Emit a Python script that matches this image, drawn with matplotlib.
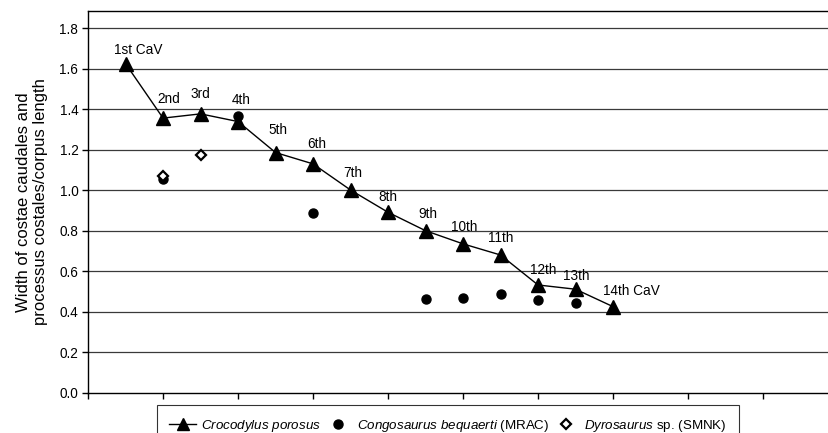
"""
Caudal vertebrae: width of costae caudales / corpus length.
"""
import matplotlib
matplotlib.use('Agg')
import matplotlib.pyplot as plt
from matplotlib.lines import Line2D

plt.rcParams['font.family'] = ['Liberation Sans', 'DejaVu Sans']
plt.rcParams['mathtext.fontset'] = 'custom'
plt.rcParams['mathtext.rm'] = 'Liberation Sans'
plt.rcParams['mathtext.it'] = 'Liberation Sans:italic'

# =============================================================================
# Data
# =============================================================================
croc_pos = [1, 2, 3, 4, 5, 6, 7, 8, 9, 10, 11, 12, 13, 14]
croc_val = [1.625, 1.356, 1.377, 1.339, 1.186, 1.130, 1.001,
            0.891, 0.800, 0.735, 0.680, 0.532, 0.511, 0.425]
croc_labels = ['1st CaV', '2nd', '3rd', '4th', '5th', '6th', '7th',
               '8th', '9th', '10th', '11th', '12th', '13th', '14th CaV']

congo_pos = [2, 4, 6, 9, 10, 11, 12, 13]
congo_val = [1.054, 1.364, 0.889, 0.463, 0.466, 0.486, 0.458, 0.442]

dyro_pos = [2, 3]
dyro_val = [1.072, 1.174]

y_ticks = [0.0, 0.2, 0.4, 0.6, 0.8, 1.0, 1.2, 1.4, 1.6, 1.8]

# label offsets in pixels (dx, dy), as placed in the original
label_offsets = [(13, 14), (6, 19), (0, 20), (3, 22), (2, 23), (4, 20), (2, 17),
                 (0, 15), (2, 17), (1, 17), (0, 17), (5, 15), (1, 13), (18, 16)]

# =============================================================================
# Plot
# =============================================================================
fig = plt.figure(figsize=(8.29, 4.33), dpi=100)
ax = fig.add_axes([0.1062, 0.0931, 0.8938, 0.8815])

for y in y_ticks[1:]:
    ax.axhline(y, color='#3a3a3a', lw=0.9, zorder=1)

ax.plot(croc_pos, croc_val, color='black', lw=1.0, marker='^', ms=9.5,
        mfc='black', mec='black', zorder=3)
ax.plot(congo_pos, congo_val, ls='none', marker='o', ms=6.5,
        mfc='black', mec='black', zorder=3)
ax.plot(dyro_pos, dyro_val, ls='none', marker='D', ms=5, mfc='white',
        mec='black', mew=1.6, zorder=4)

for x, y, lab, (dx, dy) in zip(croc_pos, croc_val, croc_labels, label_offsets):
    ax.annotate(lab, (x, y), xytext=(dx, dy), textcoords='offset pixels',
                ha='center', va='center', fontsize=9.8)

ax.set_xlim(0, 19.76)
ax.set_ylim(0, 1.885)
ax.set_xticks(range(0, 19, 2))
ax.set_xticklabels([])
ax.set_yticks(y_ticks)
ax.set_yticklabels([f'{v:.1f}' for v in y_ticks], fontsize=9.8)
ax.tick_params(direction='out', length=4, width=1, color='black', pad=3)
ax.spines['right'].set_visible(False)
for s in ['left', 'bottom', 'top']:
    ax.spines[s].set_linewidth(1.0)
    ax.spines[s].set_color('black')

ax.set_ylabel('Width of costae caudales and\nprocessus costales/corpus length',
              fontsize=12, labelpad=8, linespacing=1.2)

handles = [
    Line2D([], [], color='black', lw=1.0, marker='^', ms=9, mfc='black'),
    Line2D([], [], ls='none', marker='o', ms=6.5, mfc='black', mec='black'),
    Line2D([], [], ls='none', marker='D', ms=5, mfc='white', mec='black', mew=1.6),
]
labels = [r'$\mathit{Crocodylus\ porosus}$',
          r'$\mathit{Congosaurus\ bequaerti}$ (MRAC)',
          r'$\mathit{Dyrosaurus}$ sp. (SMNK)']
leg = fig.legend(handles, labels, loc='upper center', bbox_to_anchor=(0.5405, 0.0647),
                 ncol=3, frameon=True, fancybox=False, fontsize=9.6,
                 handlelength=2.0, handletextpad=0.4, columnspacing=0.25,
                 borderpad=0.95, borderaxespad=0)
leg.get_frame().set_edgecolor('black')
leg.get_frame().set_linewidth(0.8)

fig.savefig('out.png', dpi=100)
